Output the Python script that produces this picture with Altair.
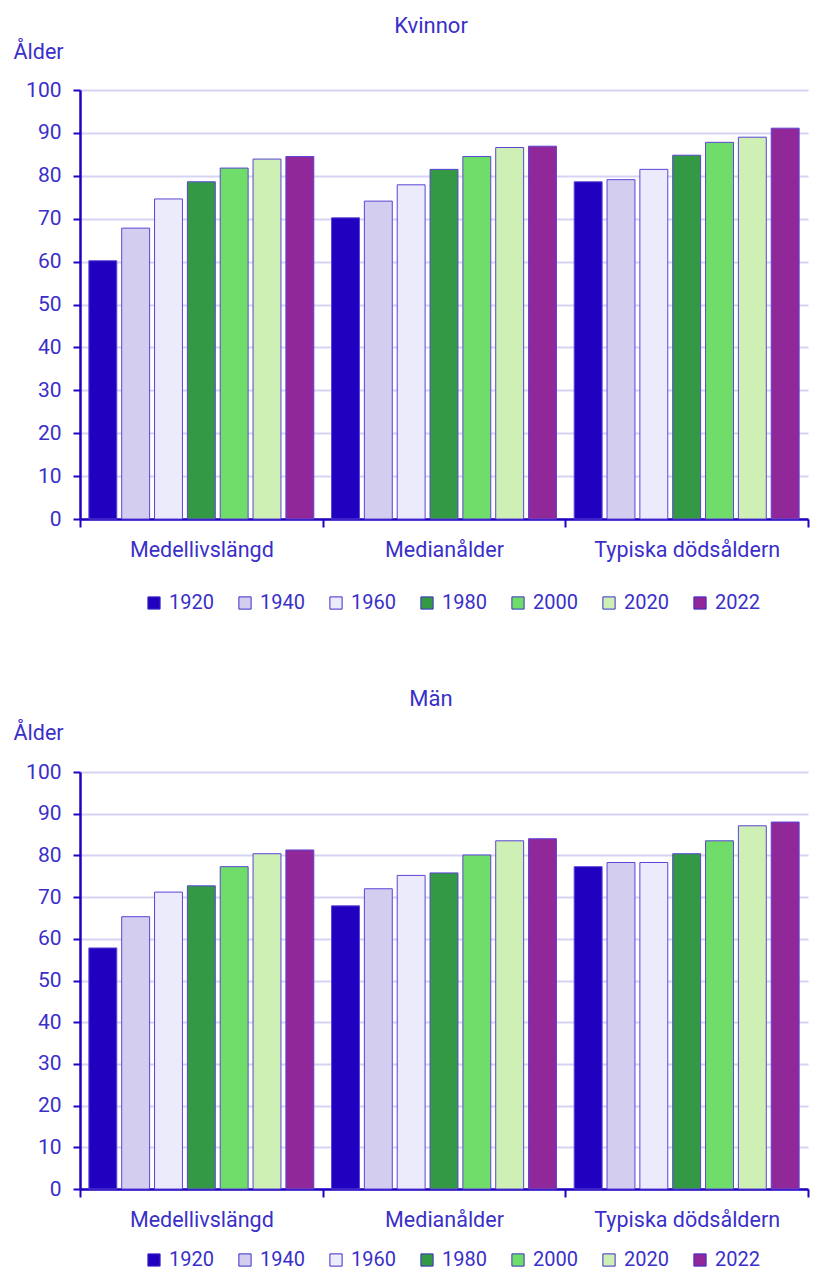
import altair as alt
import pandas as pd

categories = ["Medellivslängd", "Medianålder", "Typiska dödsåldern"]
years = ["1920", "1940", "1960", "1980", "2000", "2020", "2022"]
colors = ["#2200c0", "#d3cef0", "#ecebfc", "#339944", "#70dd6a", "#cef0b4", "#90289a"]

kvinnor_medellivslangd = [60.2, 67.8, 74.6, 78.6, 81.8, 83.9, 84.5]
kvinnor_medianalder = [70.2, 74.1, 77.9, 81.5, 84.5, 86.6, 86.9]
kvinnor_typiska = [78.6, 79.1, 81.5, 84.8, 87.8, 89.0, 91.1]

man_medellivslangd = [57.8, 65.3, 71.2, 72.7, 77.3, 80.4, 81.3]
man_medianalder = [67.9, 72.0, 75.2, 75.8, 80.1, 83.5, 84.0]
man_typiska = [77.3, 78.3, 78.3, 80.4, 83.5, 87.1, 88.0]

TEXT = "#3a2fc8"
AXIS = "#2200c0"
GRID = "#d6d3f3"
FONT = "Roboto"


def make_df(series):
    rows = []
    for cat, vals in zip(categories, series):
        for yr, v in zip(years, vals):
            rows.append({"kategori": cat, "år": yr, "värde": v})
    return pd.DataFrame(rows)


def panel(series, title, height, title_y, legend_y, title_offset):
    df = make_df(series)
    return (
        alt.Chart(df)
        .mark_bar(stroke="#5b44d6", strokeWidth=1)
        .encode(
            x=alt.X(
                "kategori:N",
                sort=categories,
                scale=alt.Scale(paddingInner=0, paddingOuter=0),
                axis=alt.Axis(
                    title=None,
                    labelAngle=0,
                    tickBand="extent",
                    tickSize=8,
                    tickWidth=2,
                    tickColor=AXIS,
                    domainColor=AXIS,
                    domainWidth=2.5,
                    labelPadding=12,
                    labelFontSize=21.5,
                    labelLimit=400,
                    labelColor=TEXT,
                    labelFont=FONT,
                    grid=False,
                ),
            ),
            xOffset=alt.XOffset(
                "år:N",
                sort=years,
                scale=alt.Scale(paddingInner=0.15, paddingOuter=0.27),
            ),
            y=alt.Y(
                "värde:Q",
                scale=alt.Scale(domain=[0, 100]),
                axis=alt.Axis(
                    values=list(range(0, 101, 10)),
                    title="Ålder",
                    titleAngle=0,
                    titleAlign="left",
                    titleBaseline="middle",
                    titleX=-67,
                    titleY=title_y,
                    titleFont=FONT,
                    titleFontSize=21.5,
                    titleFontWeight="normal",
                    titleColor=TEXT,
                    tickSize=7,
                    tickWidth=2,
                    tickColor=AXIS,
                    domainColor=AXIS,
                    domainWidth=2.5,
                    labelPadding=12,
                    labelFontSize=21,
                    labelColor=TEXT,
                    labelFont=FONT,
                    grid=True,
                    gridColor=GRID,
                    gridWidth=2,
                ),
            ),
            color=alt.Color(
                "år:N",
                sort=years,
                scale=alt.Scale(domain=years, range=colors),
                legend=alt.Legend(
                    title=None,
                    orient="none",
                    direction="horizontal",
                    legendX=64,
                    legendY=legend_y,
                    symbolType="square",
                    symbolSize=150,
                    symbolStrokeColor="#3a2fc8",
                    symbolStrokeWidth=1,
                    labelFontSize=20,
                    labelFont=FONT,
                    labelColor=TEXT,
                    labelOffset=5,
                    columnPadding=21,
                ),
            ),
        )
        .properties(
            width=728,
            height=height,
            title=alt.TitleParams(
                title,
                anchor="middle",
                frame="group",
                dx=-13,
                offset=title_offset,
                fontSize=22,
                font=FONT,
                fontWeight="normal",
                color=TEXT,
            ),
        )
    )


top = panel([kvinnor_medellivslangd, kvinnor_medianalder, kvinnor_typiska], "Kvinnor", 429, -38, 503, 3)
bottom = panel([man_medellivslangd, man_medianalder, man_typiska], "Män", 417, -39, 478, 11)

chart = (
    alt.vconcat(top, bottom, spacing=73)
    .resolve_legend(color="independent")
    .resolve_scale(color="independent")
    .properties(padding={"left": 4, "top": 6, "right": 0, "bottom": 0})
    .configure_view(stroke="transparent")
)

chart.save("out.html", embed_options={"renderer": "svg", "actions": False})
